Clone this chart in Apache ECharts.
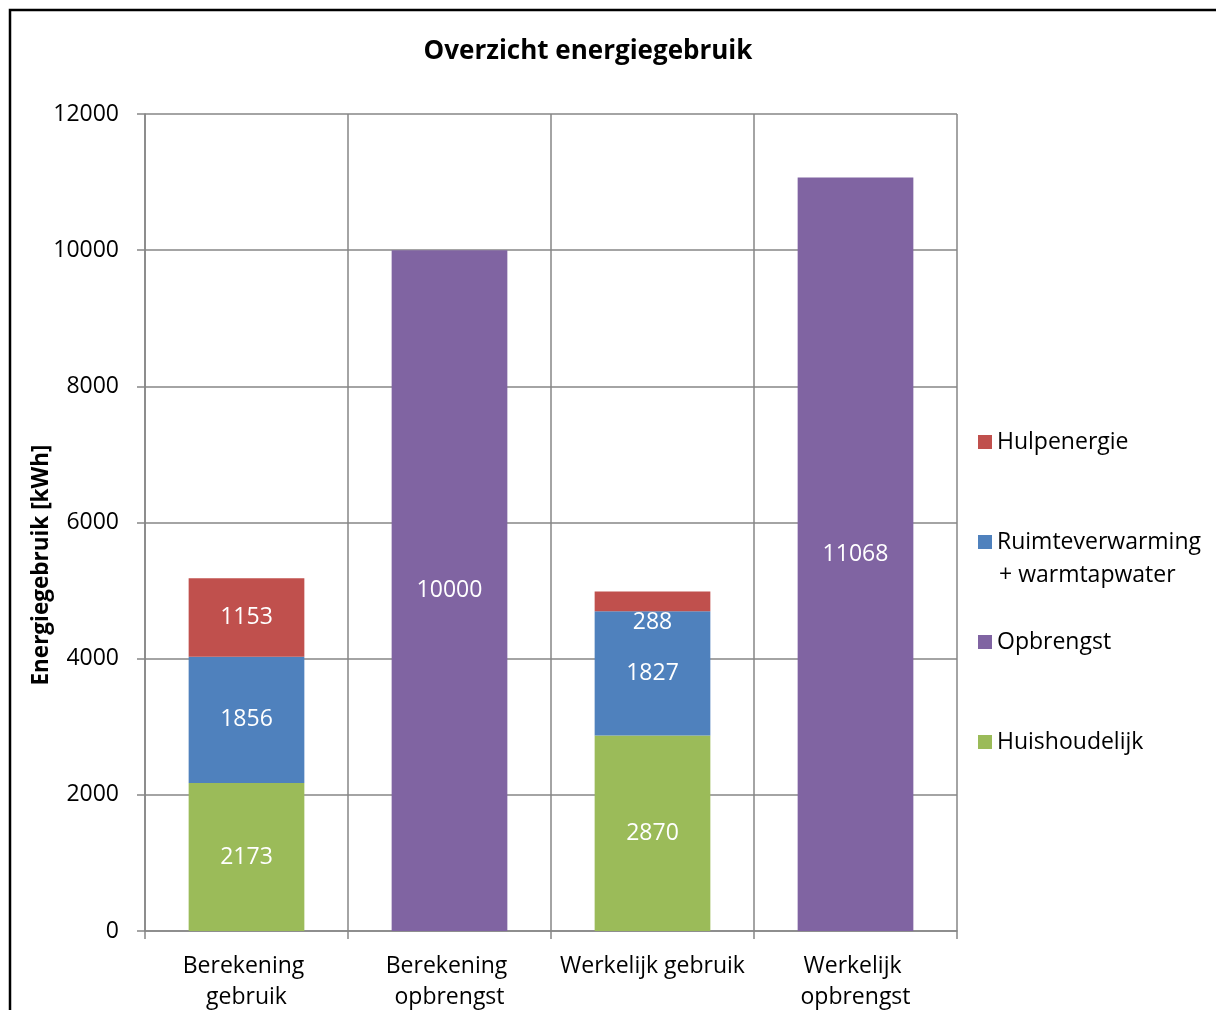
<!DOCTYPE html>
<html>
<head>
<meta charset="utf-8">
<script src="https://cdn.jsdelivr.net/npm/echarts@6/dist/echarts.min.js"></script>
<style>
  html, body { margin: 0; padding: 0; background: #fff; }
  #chart { width: 1216px; height: 1010px; }
</style>
</head>
<body>
<div id="chart"></div>
<script>
// categorieen en waarden (kWh)
var categories = ['Berekening gebruik', 'Berekening opbrengst', 'Werkelijk gebruik', 'Werkelijk opbrengst'];
var huishoudelijk = [2173, '-', 2870, '-'];
var ruimteverwarming = [1856, '-', 1827, '-'];
var hulpenergie = [1153, '-', 288, '-'];
var opbrengst = ['-', 10000, '-', 11068];
var yTicks = [0, 2000, 4000, 6000, 8000, 10000, 12000];

var FONT = '"Open Sans", sans-serif';
var FS = 23;
var chart = echarts.init(document.getElementById('chart'));

function barSeries(name, values, color){
    return {
        name: name,
        type: 'bar',
        stack: 'totaal',
        barWidth: '57%',
        itemStyle: { color: color },
        label: {
            show: true,
            position: 'inside',
            color: '#fff',
            fontFamily: FONT,
            fontSize: FS
        },
        emphasis: { disabled: true },
        data: values
    };
}

var hulpSerie = barSeries('Hulpenergie', hulpenergie, '#C0504D');
// label van 288 zakt onder het smalle rode stuk, zoals in het origineel
hulpSerie.data = hulpenergie.map(function(v){
    if(v === 288) return { value: v, label: { offset: [0, 21] } };
    return v;
});

function legendItem(name, centerY, fmt){
    return {
        data: [name],
        left: 978,
        top: centerY - 15,
        padding: 0,
        orient: 'vertical',
        itemWidth: 14,
        itemHeight: 14,
        icon: 'rect',
        selectedMode: false,
        formatter: fmt,
        textStyle: { fontFamily: FONT, fontSize: FS, lineHeight: 30, color: '#000' }
    };
}

chart.setOption({
    backgroundColor: '#fff',
    animation: false,
    title: {
        text: 'Overzicht energiegebruik',
        left: 583,
        top: 34,
        textAlign: 'center',
        textStyle: { fontFamily: FONT, fontSize: 26, fontWeight: 'bold', color: '#000' }
    },
    legend: [
        legendItem('Hulpenergie', 442),
        legendItem('Ruimteverwarming + warmtapwater', 542, function(){ return 'Ruimteverwarming'; }),
        legendItem('Opbrengst', 642),
        legendItem('Huishoudelijk', 742)
    ],
    grid: { left: 145, right: 259, top: 114, bottom: 79, containLabel: false, outerBoundsMode: 'none' },
    xAxis: {
        type: 'category',
        data: categories,
        axisLine: { lineStyle: { color: '#868686', width: 1.5 } },
        axisTick: { show: true, length: 8, lineStyle: { color: '#868686', width: 1.5 } },
        splitLine: { show: true, lineStyle: { color: '#868686', width: 1.5 } },
        axisLabel: {
            interval: 0,
            margin: 20,
            width: 198,
            overflow: 'break',
            lineHeight: 31,
            color: '#000',
            fontFamily: FONT,
            fontSize: FS
        }
    },
    yAxis: {
        type: 'value',
        min: yTicks[0],
        max: yTicks[yTicks.length - 1],
        interval: 2000,
        axisLine: { show: true, lineStyle: { color: '#868686', width: 1.5 } },
        axisTick: { show: true, length: 8, lineStyle: { color: '#868686', width: 1.5 } },
        splitLine: { show: true, lineStyle: { color: '#868686', width: 1.5 } },
        axisLabel: {
            margin: 26, color: '#000', fontFamily: FONT, fontSize: FS,
            formatter: function(v){ return String(v); }
        }
    },
    graphic: [
        {
            type: 'rect',
            shape: { x: 10, y: 10, width: 1400, height: 1200 },
            style: { fill: 'none', stroke: '#000', lineWidth: 2.5 },
            silent: true
        },
        {
            type: 'text',
            x: 42,
            y: 565,
            rotation: Math.PI / 2,
            style: {
                text: 'Energiegebruik [kWh]',
                align: 'center',
                verticalAlign: 'middle',
                fontFamily: FONT,
                fontSize: 22.5,
                fontWeight: 'bold',
                fill: '#000'
            }
        },
        {
            // tweede regel van de legendanaam
            type: 'text',
            x: 999,
            y: 575,
            style: {
                text: '+ warmtapwater',
                verticalAlign: 'middle',
                fontFamily: FONT,
                fontSize: FS,
                fill: '#000'
            }
        }
    ],
    series: [
        barSeries('Huishoudelijk', huishoudelijk, '#9BBB59'),
        barSeries('Ruimteverwarming + warmtapwater', ruimteverwarming, '#4F81BD'),
        hulpSerie,
        barSeries('Opbrengst', opbrengst, '#8064A2')
    ]
});
</script>
</body>
</html>
